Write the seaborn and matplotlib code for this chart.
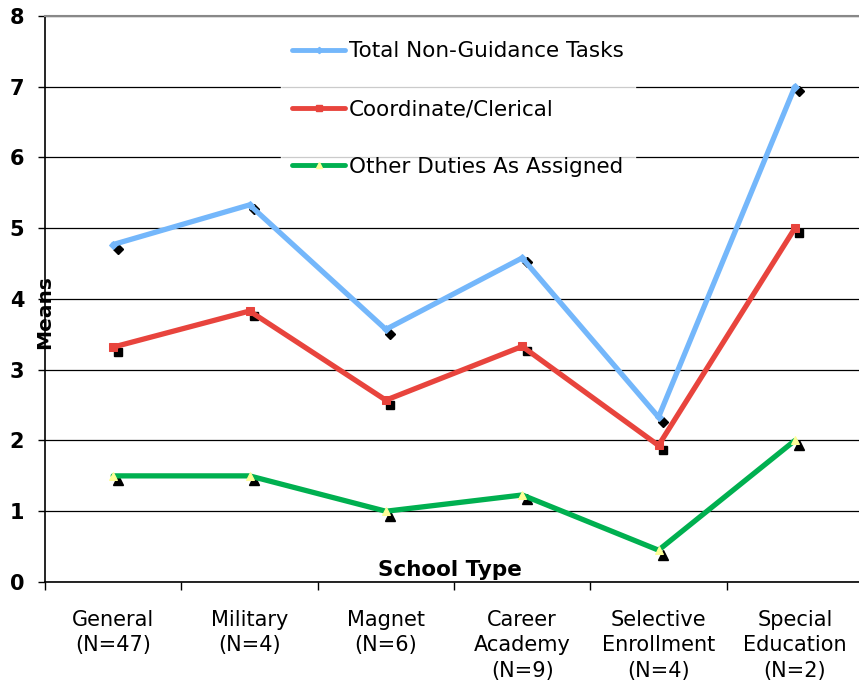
import numpy as np
import pandas as pd
import seaborn as sns
import matplotlib.pyplot as plt
from matplotlib.lines import Line2D
from matplotlib.transforms import offset_copy

school_types = ['General\n(N=47)', 'Military\n(N=4)', 'Magnet\n(N=6)',
                'Career\nAcademy\n(N=9)', 'Selective\nEnrollment\n(N=4)',
                'Special\nEducation\n(N=2)']
total_tasks = [4.77, 5.33, 3.57, 4.58, 2.33, 7.0]
clerical = [3.32, 3.83, 2.57, 3.33, 1.93, 5.0]
other_duties = [1.5, 1.5, 1.0, 1.23, 0.45, 2.0]
series_names = ['Total Non-Guidance Tasks', 'Coordinate/Clerical',
                'Other Duties As Assigned']

sns.set_style('white')
plt.rcParams['font.family'] = ['DejaVu Sans']
plt.rcParams['text.color'] = 'black'
plt.rcParams['xtick.color'] = 'black'
plt.rcParams['ytick.color'] = 'black'

fig = plt.figure(figsize=(8.59, 6.86), dpi=100)
ax = fig.add_axes([0.0524, 0.1516, 0.9523, 0.8251])

pos = np.arange(len(school_types))
styles = [
    # colour, marker, size, face colour, shadow size
    ('#74b7fb', 'D', 4, '#74b7fb', 5.5),
    ('#e8443d', 's', 6, '#e8443d', 6),
    ('#00b050', '^', 6, '#ffff99', 6.5),
]
shadow = offset_copy(ax.transData, fig=fig, x=4.5, y=-4.5, units='dots')

for vals, (col, mk, ms, mfc, sms) in zip([total_tasks, clerical, other_duties], styles):
    ax.plot(pos, vals, linestyle='none', marker=mk, ms=sms, color='black',
            transform=shadow, zorder=2)
    df = pd.DataFrame({'pos': pos, 'val': vals})
    sns.lineplot(data=df, x='pos', y='val', ax=ax, color=col, lw=3.8,
                 marker=mk, ms=ms, mfc=mfc, mec=mfc, zorder=3)

ax.set_xlim(-0.5, 5.5)
ax.set_ylim(0, 8)
ax.set_yticks(range(0, 9))
ax.set_yticklabels([str(i) for i in range(0, 9)], fontsize=15, fontweight='bold')
ax.tick_params(axis='y', length=5, width=1, color='black', pad=10, direction='out', left=True)

ax.set_xticks(np.arange(-0.5, 6, 1))
ax.set_xticklabels([])
ax.set_xticks(pos, minor=True)
ax.set_xticklabels(school_types, minor=True, fontsize=15, va='top', linespacing=1.35)
ax.tick_params(axis='x', which='major', length=6, width=1, color='black', direction='out', bottom=True)
ax.tick_params(axis='x', which='minor', length=0, pad=20)

ax.grid(axis='y', color='black', lw=0.9)
ax.set_axisbelow(True)
for s in ['left', 'bottom']:
    ax.spines[s].set_color('black')
    ax.spines[s].set_linewidth(1.2)
ax.spines['top'].set_color('#888888')
ax.spines['top'].set_linewidth(1.5)
ax.spines['right'].set_visible(False)

ax.set_xlabel('')
ax.set_ylabel('')
ax.text(0.0, 0.477, 'Means', transform=ax.transAxes, rotation=90,
        ha='center', va='center', fontsize=14.5, fontweight='bold')
ax.text(0.495, 0.021, 'School Type', transform=ax.transAxes,
        ha='center', va='center', fontsize=15.5, fontweight='bold')

handles = [Line2D([], [], color=c, lw=3.5, marker=m, ms=s * 0.8, mfc=f, mec=f)
           for c, m, s, f, _ in styles]
leg = ax.legend(handles, series_names, loc='upper center', bbox_to_anchor=(0.505, 0.993),
                frameon=True, fontsize=15.5, labelspacing=1.75, handlelength=2.45,
                handletextpad=0.2, borderpad=0.5, fancybox=False)
leg.get_frame().set_facecolor('white')
leg.get_frame().set_edgecolor('white')

fig.savefig('out.png', dpi=100)
